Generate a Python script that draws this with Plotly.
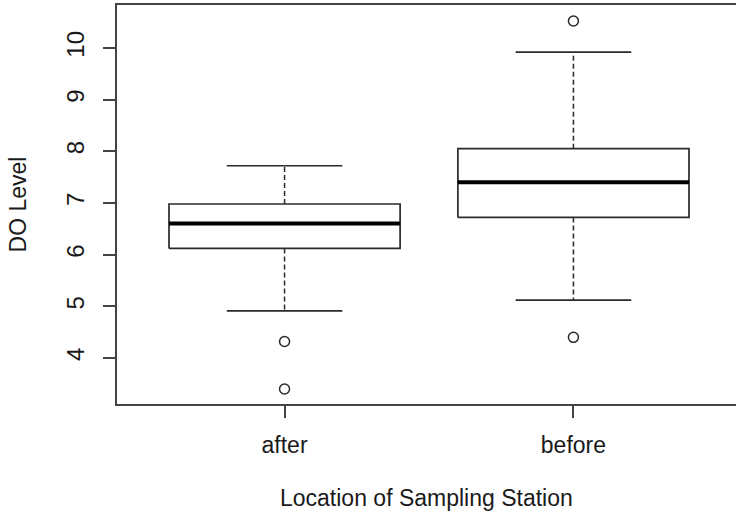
import plotly.graph_objects as go

# ---- data (R base boxplot statistics) ----
categories = ["after", "before"]
lower_whisker = [4.91, 5.12]
q1 = [6.12, 6.72]
median = [6.60, 7.40]
q3 = [6.98, 8.05]
upper_whisker = [7.72, 9.92]
outliers = [[4.32, 3.40], [10.52, 4.40]]
y_ticks = [4, 5, 6, 7, 8, 9, 10]

# ---- styling ----
FONT = "Liberation Sans, Arial, sans-serif"
TXT = "#1a1a1a"
LINE = "#2a2a2a"
HALF = 0.4      # half box width (R default width 0.8)
CAP = 0.2       # half whisker-cap width (R staplewex 0.5)

fig = go.Figure()

for i, cat in enumerate(categories):
    xc = i + 1
    # box outline
    fig.add_trace(go.Scatter(
        x=[xc - HALF, xc + HALF, xc + HALF, xc - HALF, xc - HALF],
        y=[q1[i], q1[i], q3[i], q3[i], q1[i]],
        mode="lines", line=dict(color=LINE, width=1.7),
        showlegend=False, hoverinfo="skip"))
    # median
    fig.add_trace(go.Scatter(
        x=[xc - HALF, xc + HALF], y=[median[i], median[i]],
        mode="lines", line=dict(color="black", width=4),
        showlegend=False, hoverinfo="skip"))
    # dashed whiskers
    for a, b in ((q3[i], upper_whisker[i]), (q1[i], lower_whisker[i])):
        fig.add_trace(go.Scatter(
            x=[xc, xc], y=[a, b], mode="lines",
            line=dict(color=LINE, width=1.5, dash="5px,3px"),
            showlegend=False, hoverinfo="skip"))
    # caps
    for w in (upper_whisker[i], lower_whisker[i]):
        fig.add_trace(go.Scatter(
            x=[xc - CAP, xc + CAP], y=[w, w], mode="lines",
            line=dict(color=LINE, width=1.7),
            showlegend=False, hoverinfo="skip"))
    # outliers
    fig.add_trace(go.Scatter(
        x=[xc] * len(outliers[i]), y=outliers[i], mode="markers",
        marker=dict(symbol="circle-open", size=10, color=LINE,
                    line=dict(width=1.5, color=LINE)),
        showlegend=False, hoverinfo="skip"))

axis_common = dict(showgrid=False, zeroline=False, showline=True,
                   linecolor="#444", linewidth=1.6, ticks="outside",
                   ticklen=12, tickwidth=1.6, tickcolor="#444")

fig.update_layout(
    width=736, height=518,
    margin=dict(l=117, r=0, t=5, b=114),
    paper_bgcolor="white", plot_bgcolor="white",
    xaxis=dict(range=[0.42, 2.5627], tickvals=[1, 2], ticktext=categories,
               mirror=True, ticklabelstandoff=8,
               tickfont=dict(family=FONT, size=23, color=TXT),
               **axis_common),
    yaxis=dict(range=[3.11, 10.83], tickvals=y_ticks,
               ticktext=[str(v) for v in y_ticks], tickangle=-90,
               mirror=False, ticklabelstandoff=10,
               tickfont=dict(family=FONT, size=24, color=TXT),
               **axis_common),
    annotations=[
        dict(text="Location of Sampling Station", xref="paper", yref="paper",
             x=0.5, y=-0.235, xanchor="center", yanchor="middle",
             showarrow=False, font=dict(family=FONT, size=23, color=TXT)),
        dict(text="DO Level", xref="paper", yref="paper",
             x=-0.16, y=0.5, xanchor="center", yanchor="middle",
             textangle=-90, showarrow=False,
             font=dict(family=FONT, size=23, color=TXT)),
    ],
)

fig.write_html(
    "out.html",
    config={"displayModeBar": False},
    post_script="document.body.style.margin='0';document.body.style.overflow='hidden';",
)
